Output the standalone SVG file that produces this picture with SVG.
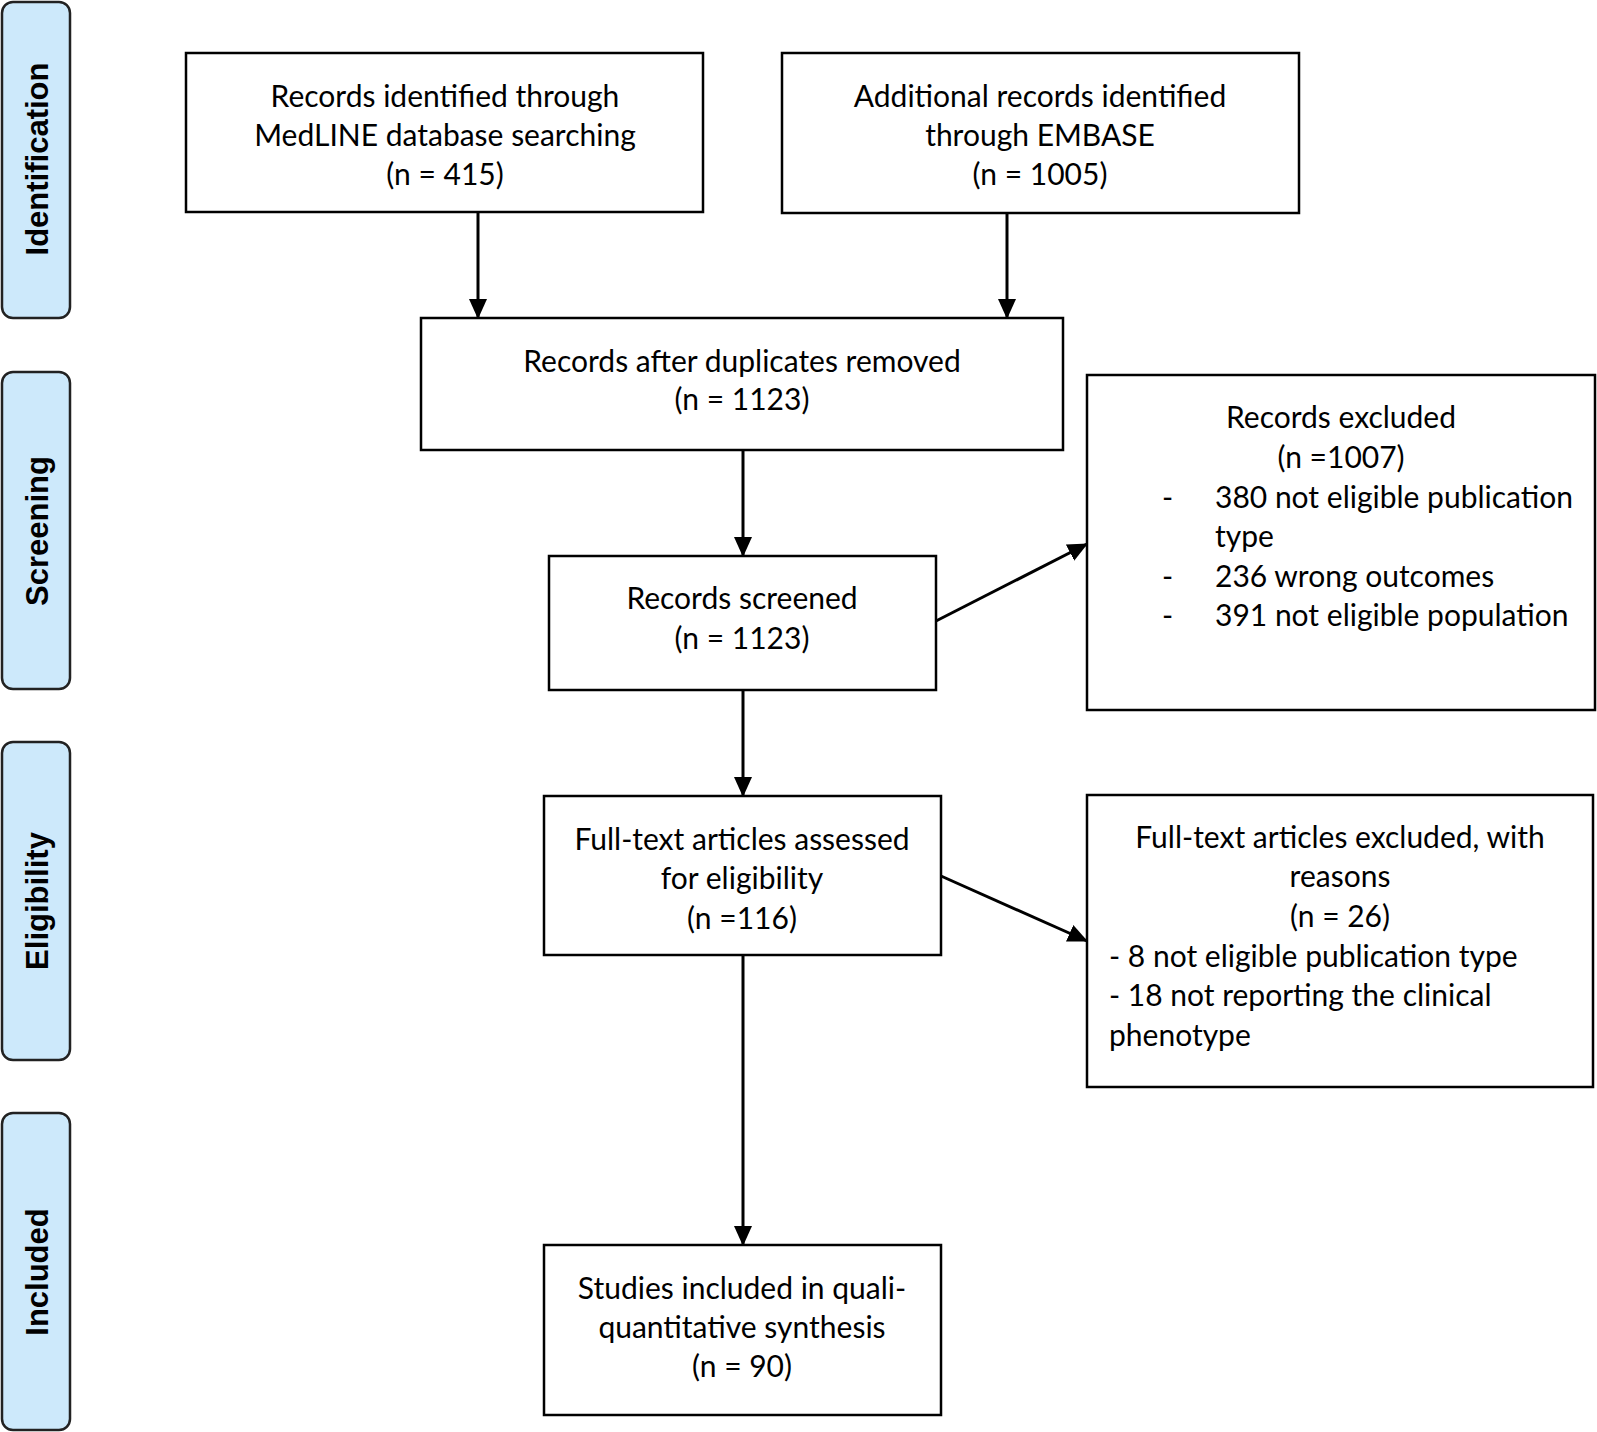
<svg xmlns="http://www.w3.org/2000/svg" width="1597" height="1432" viewBox="0 0 1597 1432">
<style>
.phase rect{fill:#cde9fb;stroke:#222;stroke-width:2.5}
.phase text{font-family:"Liberation Sans",Arial,sans-serif;font-weight:bold;font-size:31px;fill:#000;text-anchor:middle}
.box rect{fill:#fff;stroke:#000;stroke-width:2.5}
.box text{font-family:Lato,"Liberation Sans",sans-serif;font-size:30px;fill:#000}
.c{text-anchor:middle}
.conn line{stroke:#000;stroke-width:3;marker-end:url(#ah)}
</style>
<defs>
<marker id="ah" viewBox="0 0 20 20" refX="19" refY="10" markerWidth="20" markerHeight="20" orient="auto" markerUnits="userSpaceOnUse">
<path d="M0,1 L20,10 L0,19 Z" fill="#000"/>
</marker>
</defs>
<rect width="1597" height="1432" fill="#fff"/>
<g id="phase-identification" class="phase"><rect x="2" y="2" width="68" height="316" rx="11"/><text transform="translate(48,159) rotate(-90)">Identification</text></g>
<g id="phase-screening" class="phase"><rect x="2" y="372" width="68" height="317" rx="11"/><text transform="translate(48,531) rotate(-90)">Screening</text></g>
<g id="phase-eligibility" class="phase"><rect x="2" y="742" width="68" height="318" rx="11"/><text transform="translate(48,901) rotate(-90)">Eligibility</text></g>
<g id="phase-included" class="phase"><rect x="2" y="1113" width="68" height="317" rx="11"/><text transform="translate(48,1272) rotate(-90)">Included</text></g>

<g id="connectors" class="conn">
<line x1="478" y1="212" x2="478" y2="318"/>
<line x1="1007" y1="213" x2="1007" y2="318"/>
<line x1="743" y1="450" x2="743" y2="556"/>
<line x1="743" y1="690" x2="743" y2="796"/>
<line x1="743" y1="955" x2="743" y2="1245"/>
<line x1="936" y1="621" x2="1087" y2="544"/>
<line x1="941" y1="876" x2="1087" y2="941"/>
</g>

<g id="box-medline" class="box"><rect x="186" y="53" width="517" height="159"/>
<text class="c" x="445" y="107">Records identified through</text>
<text class="c" x="445" y="146">MedLINE database searching</text>
<text class="c" x="445" y="185">(n = 415)</text></g>
<g id="box-embase" class="box"><rect x="782" y="53" width="517" height="160"/>
<text class="c" x="1040" y="107">Additional records identified</text>
<text class="c" x="1040" y="146">through EMBASE</text>
<text class="c" x="1040" y="185">(n = 1005)</text></g>
<g id="box-duplicates" class="box"><rect x="421" y="318" width="642" height="132"/>
<text class="c" x="742" y="372">Records after duplicates removed</text>
<text class="c" x="742" y="410">(n = 1123)</text></g>
<g id="box-screened" class="box"><rect x="549" y="556" width="387" height="134"/>
<text class="c" x="742" y="609">Records screened</text>
<text class="c" x="742" y="649">(n = 1123)</text></g>
<g id="box-excluded" class="box"><rect x="1087" y="375" width="508" height="335"/>
<text class="c" x="1341" y="428">Records excluded</text>
<text class="c" x="1341" y="468">(n =1007)</text>
<text x="1162" y="508">-</text><text x="1215" y="508">380 not eligible publication</text>
<text x="1215" y="547">type</text>
<text x="1162" y="587">-</text><text x="1215" y="587">236 wrong outcomes</text>
<text x="1162" y="626">-</text><text x="1215" y="626">391 not eligible population</text></g>
<g id="box-fulltext" class="box"><rect x="544" y="796" width="397" height="159"/>
<text class="c" x="742" y="850">Full-text articles assessed</text>
<text class="c" x="742" y="889">for eligibility</text>
<text class="c" x="742" y="929">(n =116)</text></g>
<g id="box-fulltext-excluded" class="box"><rect x="1087" y="795" width="506" height="292"/>
<text class="c" x="1340" y="848">Full-text articles excluded, with</text>
<text class="c" x="1340" y="887">reasons</text>
<text class="c" x="1340" y="927">(n = 26)</text>
<text x="1109" y="967">- 8 not eligible publication type</text>
<text x="1109" y="1006">- 18 not reporting the clinical</text>
<text x="1109" y="1046">phenotype</text></g>
<g id="box-included" class="box"><rect x="544" y="1245" width="397" height="170"/>
<text class="c" x="742" y="1299">Studies included in quali-</text>
<text class="c" x="742" y="1338">quantitative synthesis</text>
<text class="c" x="742" y="1377">(n = 90)</text></g>
</svg>
